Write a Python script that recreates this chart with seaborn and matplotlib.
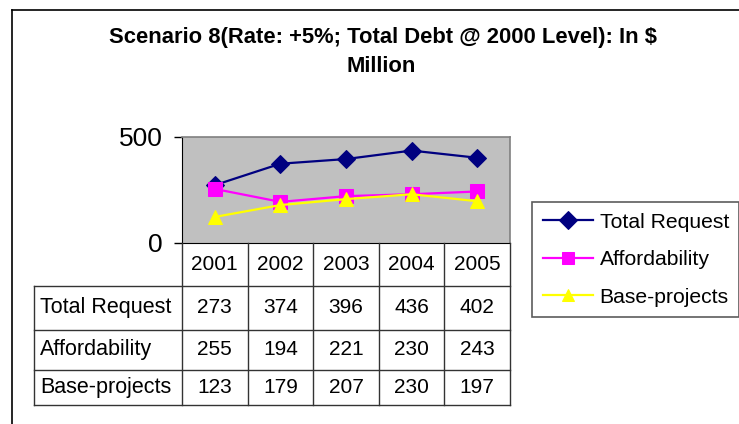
import numpy as np
import pandas as pd
import seaborn as sns
import matplotlib
matplotlib.use("Agg")
import matplotlib.pyplot as plt

# ---- data ----
years = [2001, 2002, 2003, 2004, 2005]
series_names = ["Total Request", "Affordability", "Base-projects"]
total_request = [273, 374, 396, 436, 402]
affordability = [255, 194, 221, 230, 243]
base_projects = [123, 179, 207, 230, 197]
y_ticks = [0, 500]
title_lines = ["Scenario 8(Rate: +5%; Total Debt @ 2000 Level): In $", "Million"]

colors = ["#000080", "#FF00FF", "#FFFF00"]
markers = ["D", "s", "^"]
msizes = [9, 9.5, 10.5]

values = [total_request, affordability, base_projects]
df = pd.DataFrame({
    "Year": np.tile(years, len(series_names)),
    "Value": np.concatenate(values),
    "Series": np.repeat(series_names, len(years)),
})

plt.rcParams["font.family"] = ["Liberation Sans", "DejaVu Sans"]

W, H = 739, 424
fig = plt.figure(figsize=(W / 100, H / 100), dpi=100)

# background axes in pixel coords
bg = fig.add_axes([0, 0, 1, 1], zorder=0)
bg.set_xlim(0, W)
bg.set_ylim(H, 0)
bg.axis("off")

# outer frame (top & left visible)
bg.plot([12, W], [10, 10], color="black", lw=1.2)
bg.plot([12, 12], [10, H], color="black", lw=1.2)

# title
bg.text(383, 37, title_lines[0], ha="center", va="center", fontsize=15.8,
        fontweight="bold")
bg.text(381, 66, title_lines[1], ha="center", va="center", fontsize=15.8,
        fontweight="bold")

# plot area
x0, x1, ytop, ybot = 182, 510, 137, 243
ax = fig.add_axes([x0 / W, 1 - ybot / H, (x1 - x0) / W, (ybot - ytop) / H], zorder=2)
ax.set_facecolor("#C0C0C0")

sns.lineplot(data=df, x="Year", y="Value", hue="Series", style="Series",
             hue_order=series_names, style_order=series_names,
             palette=colors, markers=markers, dashes=False,
             markersize=10, linewidth=1.6, ax=ax)

for ln, c, ms in zip(ax.lines, colors, msizes):
    ln.set_markeredgecolor(c)
    ln.set_markersize(ms)

handles, labels = ax.get_legend_handles_labels()
if ax.legend_ is not None:
    ax.legend_.remove()

ax.set_xlim(years[0] - 0.5, years[-1] + 0.5)
ax.set_ylim(0, 500)
ax.set_yticks(y_ticks)
ax.set_yticklabels([str(t) for t in y_ticks], fontsize=19)
ax.set_xticks([])
ax.set_xlabel("")
ax.set_ylabel("")
ax.tick_params(axis="y", length=6, width=1, pad=8)
for s in ["top", "right"]:
    ax.spines[s].set_color("#808080")
    ax.spines[s].set_linewidth(1.2)
ax.spines["left"].set_color("black")
ax.spines["bottom"].set_color("black")

# data table
tb = fig.add_axes([0, 0, 1, 1], zorder=3)
tb.set_xlim(0, W)
tb.set_ylim(H, 0)
tb.axis("off")
tb.patch.set_alpha(0)

tleft = 34
col_edges = np.linspace(x0, x1, len(years) + 1)
row_edges = [ybot, 286, 329.5, 370, 404.5]
lc = "#333333"
lw = 1.0
for xe in col_edges:
    tb.plot([xe, xe], [row_edges[0], row_edges[-1]], color=lc, lw=lw)
tb.plot([tleft, tleft], [row_edges[1], row_edges[-1]], color=lc, lw=lw)
for ye in row_edges[1:]:
    tb.plot([tleft, x1], [ye, ye], color=lc, lw=lw)

fs = 15
for i, yr in enumerate(years):
    cx = (col_edges[i] + col_edges[i + 1]) / 2
    tb.text(cx, (row_edges[0] + row_edges[1]) / 2, str(yr), ha="center",
            va="center", fontsize=fs)
for r, (name, vals) in enumerate(zip(series_names, values)):
    cy = (row_edges[r + 1] + row_edges[r + 2]) / 2
    tb.text(tleft + 6, cy, name, ha="left", va="center", fontsize=15.5)
    for i, v in enumerate(vals):
        cx = (col_edges[i] + col_edges[i + 1]) / 2
        tb.text(cx, cy, str(v), ha="center", va="center", fontsize=fs)

# legend
leg = fig.legend(handles, labels, loc="upper left",
                 bbox_to_anchor=(532 / W, 1 - 202 / H), borderaxespad=0,
                 fontsize=15.2, frameon=True, fancybox=False,
                 edgecolor="#333333", handlelength=2.4, handletextpad=0.3,
                 labelspacing=0.88, borderpad=0.5)
leg.get_frame().set_linewidth(1.2)
for h, c in zip(leg.legend_handles, colors):
    h.set_markeredgecolor(c)
    h.set_markerfacecolor(c)
    h.set_markersize(9)

fig.savefig("out.png", dpi=100)
